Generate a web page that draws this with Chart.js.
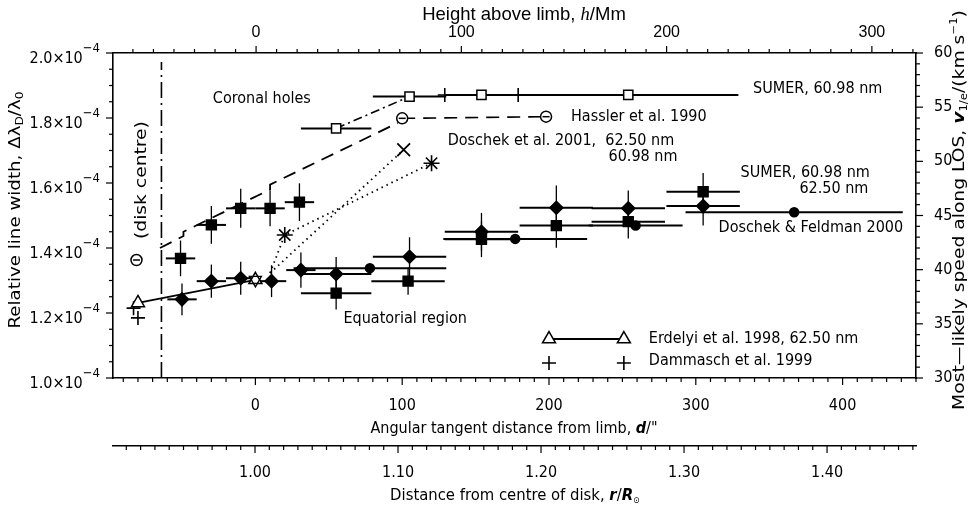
<!DOCTYPE html>
<html>
<head>
<meta charset="utf-8">
<script src="https://cdn.jsdelivr.net/npm/chart.js@4.4.1/dist/chart.umd.min.js"></script>
<style>
  html, body { margin: 0; padding: 0; background: #fff; }
  #wrap { width: 968px; height: 509px; }
</style>
</head>
<body>
<div id="wrap"><canvas id="chart" width="968" height="509"></canvas></div>
<script>
// line widths are given in units of 1e-4, distances in arcsec from the limb

// SUMER, coronal holes (filled squares)
const chSquareD    = [-51, -30, -10, 10, 30];
const chSquareW    = [1.368, 1.471, 1.522, 1.522, 1.541];
const chSquareDErr = [10, 10, 10, 10, 10];
const chSquareWErr = [0.055, 0.058, 0.060, 0.055, 0.058];

// SUMER 60.98 nm, coronal holes (open squares)
const chOpenD    = [55, 105, 154, 254];
const chOpenW    = [1.768, 1.866, 1.871, 1.871];
const chOpenDErr = [24, 25, 25, 75];

// SUMER, equatorial region (diamonds = 60.98 nm, squares = 62.50 nm)
const eqDiamondD    = [-50, -30, -10, 11, 31, 55, 105, 154, 205, 254, 305];
const eqDiamondW    = [1.242, 1.298, 1.307, 1.298, 1.332, 1.320, 1.373, 1.450, 1.524, 1.522, 1.529];
const eqDiamondDErr = [10, 10, 10, 10, 10, 24, 25, 25, 25, 25, 25];
const eqDiamondWErr = [0.049, 0.051, 0.051, 0.049, 0.054, 0.052, 0.060, 0.058, 0.068, 0.055, 0.060];

const eqSquareD    = [55, 104, 154, 205, 254, 305];
const eqSquareW    = [1.261, 1.298, 1.427, 1.469, 1.481, 1.573];
const eqSquareDErr = [24, 25, 25, 25, 25, 25];
const eqSquareWErr = [0.050, 0.042, 0.055, 0.068, 0.052, 0.058];

// Doschek & Feldman 2000 (filled circles)
const dfD    = [78, 177, 259, 367];
const dfW    = [1.338, 1.428, 1.469, 1.510];
const dfDErr = [52, 49, 32, 74];

// Hassler et al. 1990
const hasslerD = [-81, 100, 198];
const hasslerW = [1.363, 1.799, 1.804];
const hasslerCurveD = [-65, -49, -49, 10, 10, 97];
const hasslerCurveW = [1.400, 1.437, 1.450, 1.580, 1.595, 1.785];

// Doschek et al. 2001 (x = 62.50 nm, * = 60.98 nm)
const dos62D = [101];
const dos62W = [1.702];
const dos61D = [20, 120];
const dos61W = [1.440, 1.661];
const dos62LineD = [10, 101];
const dos62LineW = [1.323, 1.702];
const dos61LineD = [10, 20, 120];
const dos61LineW = [1.323, 1.440, 1.661];

// Erdelyi et al. 1998, 62.50 nm (open triangles)
const erdelyiD = [-80, 0];
const erdelyiW = [1.231, 1.302];

// Dammasch et al. 1999 (+)
const dammaschD = [-83, -80, 129, 179];
const dammaschW = [1.215, 1.185, 1.871, 1.871];
// second (inverted) triangle drawn over the limb point
const limbD = [0];
const limbW = [1.302];

// disk centre marker
const diskCentreD = [-64, -64];
const diskCentreW = [1.0, 1.972];

// legend keys drawn inside the frame
const keyD = [200, 251];
const keyTriW = [1.12, 1.12];
const keyPlusW = [1.046, 1.046];

// axis ranges and ticks
const D_MIN = -97, D_MAX = 450;
const H_MIN = -69.7, H_MAX = 321.5;
const R_MIN = 0.9007, R_MAX = 1.4622;
const W_MIN = 1.0, W_MAX = 2.0;
const V_MIN = 30, V_MAX = 60;
const dTicks = [0, 100, 200, 300, 400];
const hTicks = [0, 100, 200, 300];
const rTicks = [1.0, 1.1, 1.2, 1.3, 1.4];
const wTicks = [1.0, 1.2, 1.4, 1.6, 1.8, 2.0];
const vTicks = [30, 35, 40, 45, 50, 55, 60];

const FONT = '"DejaVu Sans Condensed", "Liberation Sans Narrow", "DejaVu Sans", sans-serif';
const HELV = '"Liberation Sans", Arial, sans-serif';

function pts(xs, ys) {
    return xs.map((x, i) => ({x: x, y: ys[i]}));
}

function markers(label, xs, ys, style, radius, filled, extra) {
    return Object.assign({
        label: label,
        data: pts(xs, ys),
        showLine: false,
        pointStyle: style,
        pointRadius: radius,
        pointHoverRadius: radius,
        pointBackgroundColor: filled ? '#000' : '#fff',
        pointBorderColor: '#000',
        pointBorderWidth: 1.5
    }, extra || {});
}

function line(label, xs, ys, dash, width) {
    return {
        label: label,
        data: pts(xs, ys),
        showLine: true,
        pointRadius: 0,
        pointHoverRadius: 0,
        borderColor: '#000',
        borderWidth: width || 1.6,
        borderDash: dash || [],
        fill: false,
        tension: 0
    };
}

// draw a string made of runs (for sub/superscripts); stretch widens along the text
function richText(ctx, parts, x, y, align, angle, stretch) {
    ctx.save();
    ctx.translate(x, y);
    if (angle) ctx.rotate(angle);
    if (stretch) ctx.scale(stretch, 1);
    ctx.textAlign = 'left';
    ctx.textBaseline = 'alphabetic';
    ctx.fillStyle = '#000';
    let total = 0;
    parts.forEach(p => { ctx.font = p.font; total += ctx.measureText(p.t).width; });
    let cx = align === 'center' ? -total / 2 : (align === 'right' ? -total : 0);
    parts.forEach(p => {
        ctx.font = p.font;
        ctx.fillText(p.t, cx, p.dy || 0);
        cx += ctx.measureText(p.t).width;
    });
    ctx.restore();
}

// error bars, read from dataset.errX / dataset.errY
const errorBars = {
    id: 'errorBars',
    beforeDatasetsDraw(chart) {
        const {ctx, scales: {x, y}} = chart;
        ctx.save();
        ctx.strokeStyle = '#000';
        chart.data.datasets.forEach(ds => {
            if (!ds.errX && !ds.errY) return;
            ds.data.forEach((p, i) => {
                const px = x.getPixelForValue(p.x);
                const py = y.getPixelForValue(p.y);
                if (ds.errX && ds.errX[i]) {
                    ctx.lineWidth = 2;
                    ctx.beginPath();
                    ctx.moveTo(x.getPixelForValue(p.x - ds.errX[i]), py);
                    ctx.lineTo(x.getPixelForValue(p.x + ds.errX[i]), py);
                    ctx.stroke();
                }
                if (ds.errY && ds.errY[i]) {
                    ctx.lineWidth = 1.3;
                    ctx.beginPath();
                    ctx.moveTo(px, y.getPixelForValue(p.y - ds.errY[i]));
                    ctx.lineTo(px, y.getPixelForValue(p.y + ds.errY[i]));
                    ctx.stroke();
                }
            });
        });
        ctx.restore();
    }
};

// major and minor tick marks on all five axes
const tickSpec = {
    x: {major: 100, minor: 10},
    xR: {major: 0.1, minor: 0.01},
    xH: {major: 100, minor: 10},
    y: {major: 0.2, minor: 0.05},
    yV: {major: 5, minor: 1}
};

const tickMarks = {
    id: 'tickMarks',
    afterDraw(chart) {
        const ctx = chart.ctx;
        ctx.save();
        ctx.strokeStyle = '#000';
        ctx.lineWidth = 1.2;
        Object.keys(tickSpec).forEach(id => {
            const s = chart.scales[id];
            const spec = tickSpec[id];
            const start = Math.ceil(s.min / spec.minor - 1e-6);
            const end = Math.floor(s.max / spec.minor + 1e-6);
            for (let k = start; k <= end; k++) {
                const val = k * spec.minor;
                const q = val / spec.major;
                const len = Math.abs(q - Math.round(q)) < 1e-6 ? 7 : 4;
                const p = s.getPixelForValue(val);
                ctx.beginPath();
                if (s.position === 'bottom') { ctx.moveTo(p, s.top); ctx.lineTo(p, s.top + len); }
                else if (s.position === 'top') { ctx.moveTo(p, s.bottom); ctx.lineTo(p, s.bottom - len); }
                else if (s.position === 'left') { ctx.moveTo(s.right, p); ctx.lineTo(s.right - len, p); }
                else { ctx.moveTo(s.left, p); ctx.lineTo(s.left + len, p); }
                ctx.stroke();
            }
        });
        ctx.restore();
    }
};

// titles, left tick labels and annotations
const labels = {
    id: 'labels',
    afterDraw(chart) {
        const ctx = chart.ctx;
        const {x, y} = chart.scales;
        const f = (size, style) => (style ? style + ' ' : '') + size + 'px ' + FONT;
        const at = (d, w) => [x.getPixelForValue(d), y.getPixelForValue(w)];

        // left tick labels with exponent
        wTicks.forEach(w => {
            const py = y.getPixelForValue(w);
            richText(ctx, [
                {t: w.toFixed(1) + '\u00d710', font: f(16)},
                {t: '\u22124', font: f(13), dy: -11}
            ], 100, py + 10, 'right');
        });

        // axis titles
        richText(ctx, [
            {t: 'Height above limb, ', font: '18.5px ' + HELV},
            {t: 'h', font: 'italic 18.5px "Liberation Serif", serif'},
            {t: '/Mm', font: '18.5px ' + HELV}
        ], 524, 20, 'center');
        richText(ctx, [
            {t: 'Angular tangent distance from limb, ', font: f(16)},
            {t: 'd', font: f(16, 'italic bold')},
            {t: '/"', font: f(16)}
        ], 514, 433, 'center');
        richText(ctx, [
            {t: 'Distance from centre of disk, ', font: f(16.5)},
            {t: 'r', font: f(16.5, 'italic bold')},
            {t: '/', font: f(16.5)},
            {t: 'R', font: f(16.5, 'italic bold')},
            {t: '\u2299', font: f(9), dy: 3}
        ], 515, 500, 'center');
        richText(ctx, [
            {t: 'Relative line width, \u0394\u03bb', font: f(15)},
            {t: 'D', font: f(10), dy: 3},
            {t: '/\u03bb', font: f(15)},
            {t: '0', font: f(10), dy: 3}
        ], 20, 210, 'center', -Math.PI / 2, 1.35);
        richText(ctx, [
            {t: 'Most\u2014likely speed along LOS, ', font: f(16)},
            {t: 'v', font: f(16, 'italic bold')},
            {t: '1/e', font: f(10), dy: 3},
            {t: '/(km s', font: f(16)},
            {t: '\u22121', font: f(10), dy: -7},
            {t: ')', font: f(16)}
        ], 964, 210, 'center', -Math.PI / 2, 1.3);

        // annotations, anchored in data coordinates
        const note = (text, d, w, align, size) => {
            const [px, py] = at(d, w);
            richText(ctx, [{t: text, font: f(size || 16)}], px, py + 5, align || 'left');
        };
        note('Coronal holes', -29, 1.862);
        note('SUMER, 60.98 nm', 339, 1.892);
        note('Hassler et al. 1990', 215, 1.805);
        note('Doschek et al. 2001,  62.50 nm', 131, 1.732);
        note('60.98 nm', 287.5, 1.683, 'right');
        note('SUMER, 60.98 nm', 330.5, 1.634);
        note('62.50 nm', 417.5, 1.584, 'right');
        note('Doschek & Feldman 2000', 315.5, 1.465);
        note('Equatorial region', 60, 1.185);
        note('Erdelyi et al. 1998, 62.50 nm', 268, 1.123);
        note('Dammasch et al. 1999', 268, 1.055);
        const [dx, dy] = at(-78.3, 1.609);
        richText(ctx, [{t: '(disk centre)', font: f(16)}], dx + 6, dy, 'center', -Math.PI / 2, 1.3);
    }
};

const datasets = [
    markers('SUMER coronal holes', chSquareD, chSquareW, 'rect', 7, true, {errX: chSquareDErr, errY: chSquareWErr}),
    markers('SUMER equatorial 62.50 nm', eqSquareD, eqSquareW, 'rect', 7, true, {errX: eqSquareDErr, errY: eqSquareWErr}),
    markers('SUMER equatorial 60.98 nm', eqDiamondD, eqDiamondW, 'rectRot', 6.5, true, {errX: eqDiamondDErr, errY: eqDiamondWErr}),
    markers('Doschek & Feldman 2000', dfD, dfW, 'circle', 4.5, true, {errX: dfDErr}),
    markers('SUMER 60.98 nm coronal holes', chOpenD, chOpenW, 'rect', 6.5, false, {errX: chOpenDErr}),
    markers('Hassler et al. 1990 bar', hasslerD, hasslerW, 'line', 3.5, false),
    markers('Hassler et al. 1990', hasslerD, hasslerW, 'circle', 5.5, false),
    markers('Doschek et al. 2001, 62.50 nm', dos62D, dos62W, 'crossRot', 9, false, {pointBorderWidth: 1.8}),
    markers('Doschek et al. 2001, 60.98 nm', dos61D, dos61W, 'star', 8, false, {pointBorderWidth: 1.6}),
    markers('limb point', limbD, limbW, 'triangle', 7, false, {pointRotation: 180, pointBackgroundColor: 'rgba(0,0,0,0)', pointBorderWidth: 1.3}),
    markers('Erdelyi et al. 1998', erdelyiD, erdelyiW, 'triangle', 7.5, false),
    markers('Dammasch et al. 1999', dammaschD, dammaschW, 'cross', 7, false, {pointBorderWidth: 1.6}),
    markers('key Erdelyi', keyD, keyTriW, 'triangle', 7.5, false),
    markers('key Dammasch', keyD, keyPlusW, 'cross', 7, false, {pointBorderWidth: 1.6}),
    line('key Erdelyi line', keyD, keyTriW, [], 2),
    line('Erdelyi line', erdelyiD, erdelyiW, [], 1.8),
    line('open squares link', chOpenD.slice(0, 2), chOpenW.slice(0, 2), [9, 4, 2, 4], 1.6),
    line('Hassler curve', hasslerCurveD, hasslerCurveW, [13, 8], 1.8),
    line('Hassler flat', hasslerD.slice(1), hasslerW.slice(1), [13, 8], 1.6),
    line('Doschek 62.50 line', dos62LineD, dos62LineW, [1.5, 4], 1.8),
    line('Doschek 60.98 line', dos61LineD, dos61LineW, [1.5, 4], 1.8),
    line('disk centre', diskCentreD, diskCentreW, [16, 5, 2, 5], 1.6)
];

const tickFont = {family: FONT, size: 16};
const border = {display: true, color: '#000', width: 1.6};

new Chart(document.getElementById('chart'), {
    type: 'scatter',
    data: {datasets: datasets},
    options: {
        responsive: false,
        animation: false,
        events: [],
        layout: {padding: 0, autoPadding: false},
        plugins: {legend: {display: false}, tooltip: {enabled: false}},
        scales: {
            x: {
                type: 'linear', axis: 'x', position: 'bottom', weight: 0, min: D_MIN, max: D_MAX,
                grid: {display: false}, border: border,
                afterBuildTicks: s => { s.ticks = dTicks.map(v => ({value: v})); },
                afterFit: s => { s.height = 68; },
                ticks: {color: '#000', font: tickFont, padding: 10, maxRotation: 0, autoSkip: false}
            },
            xR: {
                type: 'linear', axis: 'x', position: 'bottom', weight: 1, min: R_MIN, max: R_MAX,
                grid: {display: false}, border: border,
                afterBuildTicks: s => { s.ticks = rTicks.map(v => ({value: v})); },
                afterFit: s => { s.height = 63; },
                ticks: {color: '#000', font: tickFont, padding: 9, maxRotation: 0, autoSkip: false,
                        callback: v => v.toFixed(2)}
            },
            xH: {
                type: 'linear', axis: 'x', position: 'top', min: H_MIN, max: H_MAX,
                grid: {display: false}, border: border,
                afterBuildTicks: s => { s.ticks = hTicks.map(v => ({value: v})); },
                afterFit: s => { s.height = 53; },
                ticks: {color: '#000', font: {family: HELV, size: 16}, padding: 3, maxRotation: 0, autoSkip: false}
            },
            y: {
                type: 'linear', axis: 'y', position: 'left', min: W_MIN, max: W_MAX,
                grid: {display: false}, border: border,
                afterBuildTicks: s => { s.ticks = wTicks.map(v => ({value: v})); },
                afterFit: s => { s.width = 113; },
                ticks: {display: false}
            },
            yV: {
                type: 'linear', axis: 'y', position: 'right', min: V_MIN, max: V_MAX,
                grid: {display: false}, border: border,
                afterBuildTicks: s => { s.ticks = vTicks.map(v => ({value: v})); },
                afterFit: s => { s.width = 52; },
                ticks: {color: '#000', font: tickFont, padding: 10, autoSkip: false}
            }
        }
    },
    plugins: [errorBars, tickMarks, labels]
});
</script>
</body>
</html>
